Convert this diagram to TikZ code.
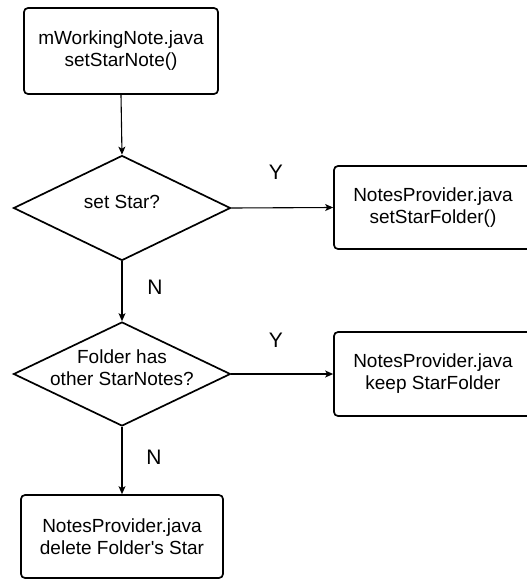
\documentclass[tikz,border=0pt]{standalone}
\usepackage{fontspec}
\setmainfont{Liberation Sans}
\usetikzlibrary{shapes.geometric,arrows.meta}
\newcommand{\fixedtext}[1]{\makebox[0pt]{\smash{\begin{tabular}{@{}c@{}}#1\end{tabular}}}}
\begin{document}
\begin{tikzpicture}[x=1pt,y=-1pt,
  procbox/.style={draw, line width=1.7pt, rounded corners=4pt, align=center, inner sep=0pt, font=\fontsize{19}{22}\selectfont},
  decision/.style={draw, diamond, line width=1.7pt, inner sep=0pt, font=\fontsize{19}{22}\selectfont},
  conn/.style={draw, line width=1.1pt, -{Stealth[length=8pt,width=7pt,inset=2pt]}},
  yn/.style={font=\fontsize{21}{24}\selectfont, inner sep=0pt}
]
\useasboundingbox (0,0) rectangle (527,579);
\node[procbox, minimum width=194pt, minimum height=86pt] (start) at (121,51) {mWorkingNote.java\\setStarNote()};
\node[decision, minimum width=217pt, minimum height=105pt] (d1) at (122,208) {\fixedtext{set Star?}};
\node[procbox, minimum width=198pt, minimum height=83pt] (setfolder) at (433,207.5) {NotesProvider.java\\setStarFolder()};
\node[decision, minimum width=217pt, minimum height=104pt] (d2) at (122,374) {\fixedtext{Folder has\\other StarNotes?}};
\node[procbox, minimum width=198pt, minimum height=84pt] (keep) at (433,374) {NotesProvider.java\\keep StarFolder};
\node[procbox, minimum width=202pt, minimum height=83pt] (del) at (122,536.5) {NotesProvider.java\\delete Folder\textquotesingle s Star};
\draw[conn] (start.south) -- (d1.north);
\draw[conn] (d1.east) -- (setfolder.west);
\draw[conn] (d1.south) -- (d2.north);
\draw[conn] (d2.east) -- (keep.west);
\draw[conn] (d2.south) -- (del.north);
\node[yn] (y1) at (276,172) {Y};
\node[yn] (n1) at (155,287) {N};
\node[yn] (y2) at (276,340) {Y};
\node[yn] (n2) at (154,457) {N};
\end{tikzpicture}
\end{document}
